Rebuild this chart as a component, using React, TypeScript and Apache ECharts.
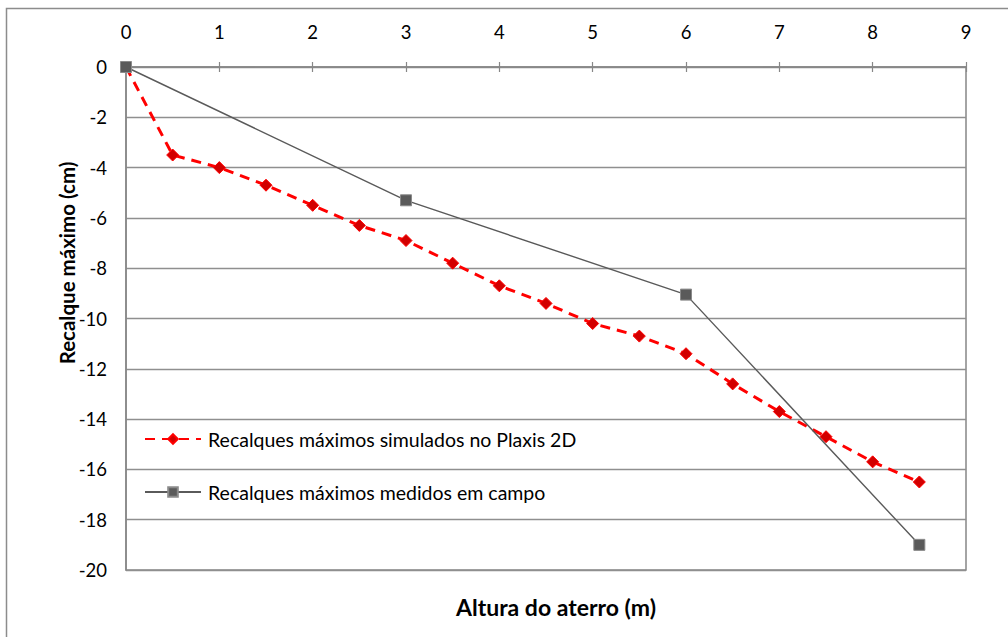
import React, { useEffect, useRef } from "react";
import * as echarts from "echarts";

// Embankment height (m) at each simulated stage and the simulated max settlement (cm)
const simHeights = [0, 0.5, 1, 1.5, 2, 2.5, 3, 3.5, 4, 4.5, 5, 5.5, 6, 6.5, 7, 7.5, 8, 8.5];
const simSettlement = [0, -3.5, -4.0, -4.7, -5.5, -6.3, -6.9, -7.8, -8.7, -9.4, -10.2, -10.7, -11.4, -12.6, -13.7, -14.7, -15.7, -16.5];

// Field measurements
const fieldHeights = [0, 3, 6, 8.5];
const fieldSettlement = [0, -5.3, -9.05, -19];

const simName = "Recalques máximos simulados no Plaxis 2D";
const fieldName = "Recalques máximos medidos em campo";
const xTitle = "Altura do aterro (m)";
const yTitle = "Recalque máximo (cm)";

const FONT = "Lato, 'Open Sans', sans-serif";
const AXIS_GRAY = "#878787";

export default function App() {
  const ref = useRef<HTMLDivElement>(null);

  useEffect(() => {
    if (!ref.current) return;
    const chart = echarts.init(ref.current, undefined, { renderer: "svg" });

    const simData = simHeights.map((h, i) => [h, simSettlement[i]]);
    const fieldData = fieldHeights.map((h, i) => [h, fieldSettlement[i]]);

    chart.setOption({
      animation: false,
      backgroundColor: "#ffffff",
      textStyle: { fontFamily: FONT },
      grid: {
        left: 126,
        top: 67,
        width: 840,
        height: 503,
        show: true,
        borderColor: AXIS_GRAY,
        borderWidth: 1.5,
        backgroundColor: "transparent",
      },
      xAxis: [
        {
          type: "value",
          position: "top",
          min: 0,
          max: 9,
          interval: 1,
          axisLine: { show: true, lineStyle: { color: AXIS_GRAY, width: 1.5 } },
          axisTick: { show: true, length: 5, lineStyle: { color: AXIS_GRAY, width: 1.2 } },
          axisLabel: { color: "#000", fontSize: 18.5, fontFamily: FONT, margin: 26 },
          splitLine: { show: false },
        },
        {
          type: "value",
          position: "top",
          min: 0,
          max: 9,
          interval: 1,
          axisLine: { show: false },
          axisTick: { show: true, inside: true, length: 5, lineStyle: { color: AXIS_GRAY, width: 1.2 } },
          axisLabel: { show: false },
          splitLine: { show: false },
        },
      ],
      yAxis: {
        type: "value",
        min: -20,
        max: 0,
        interval: 2,
        axisLine: { show: true, lineStyle: { color: AXIS_GRAY, width: 1.5 } },
        axisTick: { show: false },
        axisLabel: { color: "#000", fontSize: 18.5, fontFamily: FONT, margin: 19 },
        splitLine: { show: true, lineStyle: { color: "#8f8f8f", width: 1.4 } },
      },
      legend: {
        orient: "vertical",
        left: 144,
        top: 429,
        padding: 0,
        itemGap: 33,
        itemWidth: 56,
        itemHeight: 12,
        textStyle: { color: "#000", fontSize: 19.5, fontFamily: FONT, padding: [0, 0, 0, 2] },
        data: [simName, fieldName],
      },
      series: [
        {
          name: simName,
          type: "line",
          xAxisIndex: 0,
          data: simData,
          symbol: "diamond",
          symbolSize: 12,
          lineStyle: { color: "#ff0000", width: 3, type: [10, 7] },
          itemStyle: { color: "#d20000", borderColor: "#ff0000", borderWidth: 1 },
          z: 2,
        },
        {
          name: fieldName,
          type: "line",
          xAxisIndex: 0,
          data: fieldData,
          symbol: "rect",
          symbolSize: 11,
          lineStyle: { color: "#5a5a5a", width: 1.4 },
          itemStyle: { color: "#5a5a5a", borderColor: "#8a8a8a", borderWidth: 1 },
          z: 3,
        },
      ],
      graphic: [
        {
          type: "rect",
          silent: true,
          shape: { x: 6.5, y: 8.5, width: 1020, height: 650 },
          style: { fill: "none", stroke: "#8c8c8c", lineWidth: 1.5 },
        },
        {
          type: "text",
          x: 67,
          y: 263,
          rotation: Math.PI / 2,
          style: {
            text: yTitle,
            fill: "#000",
            fontSize: 20.5,
            fontWeight: "bold",
            fontFamily: FONT,
            textAlign: "center",
            textVerticalAlign: "middle",
          },
        },
        {
          type: "text",
          x: 556,
          y: 607,
          style: {
            text: xTitle,
            fill: "#000",
            fontSize: 23,
            fontWeight: "bold",
            fontFamily: FONT,
            textAlign: "center",
            textVerticalAlign: "middle",
          },
        },
      ],
    });

    return () => chart.dispose();
  }, []);

  return (
    <div
      ref={ref}
      style={{ position: "fixed", left: 0, top: 0, width: 1008, height: 637, background: "#fff" }}
    />
  );
}
